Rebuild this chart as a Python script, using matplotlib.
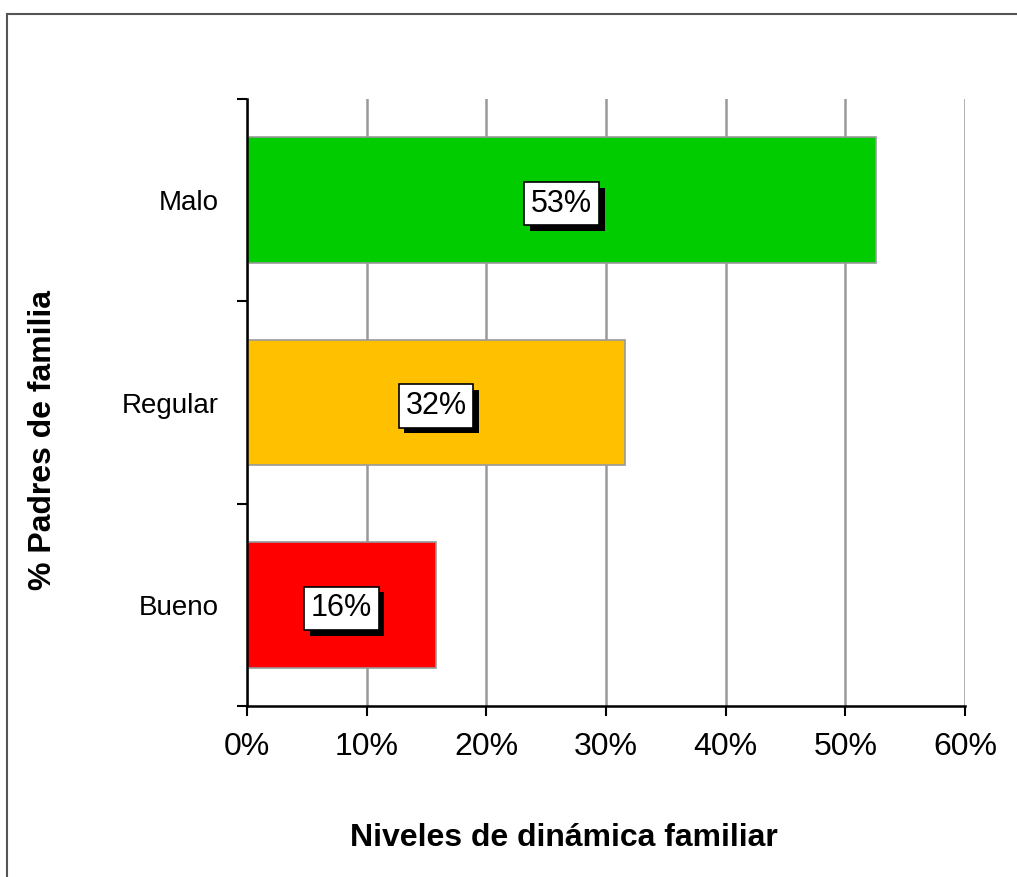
import numpy as np
import matplotlib.pyplot as plt
from matplotlib.lines import Line2D
import matplotlib.patheffects as pe

plt.rcParams['font.family'] = ['Liberation Sans', 'DejaVu Sans']

categorias = ["Bueno", "Regular", "Malo"]
valores = [0.158, 0.316, 0.526]
etiquetas = ["16%", "32%", "53%"]
colores = ["#ff0000", "#ffc000", "#00cc00"]
xticks = [0, 0.1, 0.2, 0.3, 0.4, 0.5, 0.6]
xticklabels = ["0%", "10%", "20%", "30%", "40%", "50%", "60%"]

fig = plt.figure(figsize=(10.17, 8.77), dpi=100)
W, H = 1017, 877
ax = fig.add_axes([247 / W, 1 - 706 / H, (965 - 247) / W, (706 - 99) / H])

# marco exterior
fig.add_artist(Line2D([7 / W, 7 / W], [0, 1 - 14 / H], color="#555555", lw=1.5))
fig.add_artist(Line2D([7 / W, 1], [1 - 14 / H, 1 - 14 / H], color="#555555", lw=1.5))

y = np.arange(len(categorias))
ax.barh(y, valores, height=0.62, color=colores, edgecolor="#999999", linewidth=1.2, zorder=3)

for i in range(len(valores)):
    t = ax.text(valores[i] / 2, y[i], etiquetas[i], ha='center', va='center_baseline', fontsize=22,
                color='black', zorder=5,
                bbox=dict(boxstyle='square,pad=0.22', facecolor='white', edgecolor='black', linewidth=1.2))
    t.get_bbox_patch().set_path_effects([
        pe.SimplePatchShadow(offset=(4, -4), shadow_rgbFace='black', alpha=1),
        pe.Normal()])

ax.set_xlim(0, 0.6)
ax.set_ylim(-0.5, 2.5)
ax.set_xticks(xticks)
ax.set_xticklabels(xticklabels, fontsize=23)
ax.set_yticks(y)
ax.set_yticklabels(categorias, fontsize=20)
ax.set_yticks([-0.5, 0.5, 1.5, 2.5], minor=True)
ax.tick_params(axis='y', which='major', length=0, pad=20)
ax.tick_params(axis='y', which='minor', length=7, width=1.5, direction='out')
ax.tick_params(axis='x', which='major', length=7, width=1.5, direction='out', pad=12)

ax.grid(axis='x', color='#999999', linewidth=1.8, zorder=0)
ax.set_axisbelow(True)
for s in ['top', 'right']:
    ax.spines[s].set_visible(False)
for s in ['left', 'bottom']:
    ax.spines[s].set_linewidth(1.8)
    ax.spines[s].set_zorder(6)

fig.text(564 / W, 1 - 838 / H, "Niveles de dinámica familiar", ha='center', va='center',
         fontsize=23, fontweight='bold')
fig.text(43 / W, 1 - 440 / H, "% Padres de familia", ha='center', va='center',
         rotation=90, fontsize=23, fontweight='bold')

fig.savefig("out.png", dpi=100, facecolor='white')
